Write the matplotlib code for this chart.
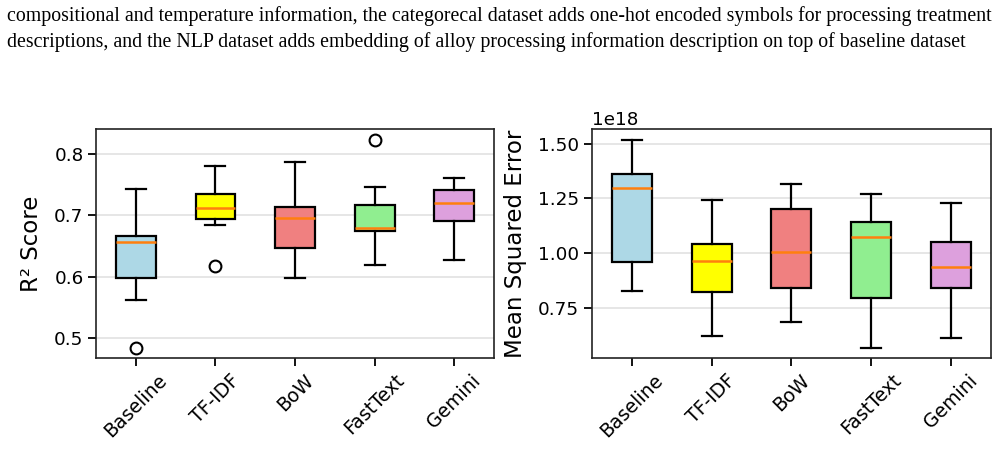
import matplotlib
matplotlib.use('Agg')
import matplotlib.pyplot as plt

CATEGORIES = ['Baseline', 'TF-IDF', 'BoW', 'FastText', 'Gemini']
BOX_COLORS = ['lightblue', 'yellow', 'lightcoral', 'lightgreen', 'plum']

# R2 score: whisker low, Q1, median, Q3, whisker high, outliers
R2_WLO = [0.561, 0.684, 0.598, 0.619, 0.627]
R2_Q1 = [0.598, 0.694, 0.647, 0.674, 0.690]
R2_MED = [0.656, 0.712, 0.695, 0.680, 0.720]
R2_Q3 = [0.667, 0.735, 0.713, 0.717, 0.741]
R2_WHI = [0.743, 0.780, 0.787, 0.746, 0.761]
R2_FLIERS = [[0.483], [0.617], [], [0.823], []]

# Mean squared error (units of 1e18)
MSE_WLO = [0.826, 0.622, 0.683, 0.566, 0.611]
MSE_Q1 = [0.957, 0.823, 0.841, 0.794, 0.841]
MSE_MED = [1.297, 0.962, 1.006, 1.075, 0.937]
MSE_Q3 = [1.361, 1.040, 1.203, 1.143, 1.052]
MSE_WHI = [1.518, 1.241, 1.314, 1.271, 1.227]
MSE_FLIERS = [[], [], [], [], []]
MSE_SCALE = 1e18

CAPTION = [
    'compositional and temperature information, the categorecal dataset adds one-hot encoded symbols for processing treatment',
    'descriptions, and the NLP dataset adds embedding of alloy processing information description on top of baseline dataset',
]


def make_stats(wlo, q1, med, q3, whi, fliers, scale=1.0):
    stats = []
    for i in range(len(med)):
        stats.append({
            'whislo': wlo[i] * scale,
            'q1': q1[i] * scale,
            'med': med[i] * scale,
            'q3': q3[i] * scale,
            'whishi': whi[i] * scale,
            'fliers': [v * scale for v in fliers[i]],
        })
    return stats


def draw_panel(ax, stats, ylabel):
    lw = 1.6
    bp = ax.bxp(
        stats, patch_artist=True, widths=0.5,
        boxprops=dict(linewidth=lw, edgecolor='black'),
        whiskerprops=dict(linewidth=lw, color='black'),
        capprops=dict(linewidth=lw, color='black'),
        medianprops=dict(linewidth=1.8, color='#ff7f0e'),
        flierprops=dict(marker='o', markersize=8.5, markerfacecolor='none',
                        markeredgecolor='black', markeredgewidth=1.5),
    )
    for patch, color in zip(bp['boxes'], BOX_COLORS):
        patch.set_facecolor(color)
    ax.set_xticks(range(1, len(CATEGORIES) + 1))
    ax.set_xticklabels(CATEGORIES, rotation=45)
    ax.set_ylabel(ylabel, fontsize=16.5, labelpad=8)
    ax.tick_params(axis='y', labelsize=13.2, length=5.5, width=1.3)
    ax.tick_params(axis='x', labelsize=13.6, length=5.5, width=1.3)
    ax.yaxis.grid(True, color='#e4e4e4', linewidth=1.3)
    ax.set_axisbelow(True)
    for spine in ax.spines.values():
        spine.set_linewidth(1.2)
        spine.set_color('#222222')


fig = plt.figure(figsize=(9.98, 4.5), dpi=100)

for i, line in enumerate(CAPTION):
    fig.text(0.007, 1 - (16 + 26 * i) / 450, line, family='Liberation Serif',
             fontsize=14.3, va='center', ha='left')

ax1 = fig.add_axes([0.0962, 0.2044, 0.3988, 0.5089])
ax2 = fig.add_axes([0.593, 0.2044, 0.400, 0.5089])

draw_panel(ax1, make_stats(R2_WLO, R2_Q1, R2_MED, R2_Q3, R2_WHI, R2_FLIERS), 'R² Score')
ax1.set_ylim(0.467, 0.841)
ax1.set_yticks([0.5, 0.6, 0.7, 0.8])

draw_panel(ax2, make_stats(MSE_WLO, MSE_Q1, MSE_MED, MSE_Q3, MSE_WHI, MSE_FLIERS, MSE_SCALE),
           'Mean Squared Error')
ax2.set_ylim(0.520 * MSE_SCALE, 1.567 * MSE_SCALE)
ax2.set_yticks([0.75e18, 1.0e18, 1.25e18, 1.5e18])
ax2.yaxis.get_offset_text().set_fontsize(13.2)

fig.savefig('out.png', dpi=100)
